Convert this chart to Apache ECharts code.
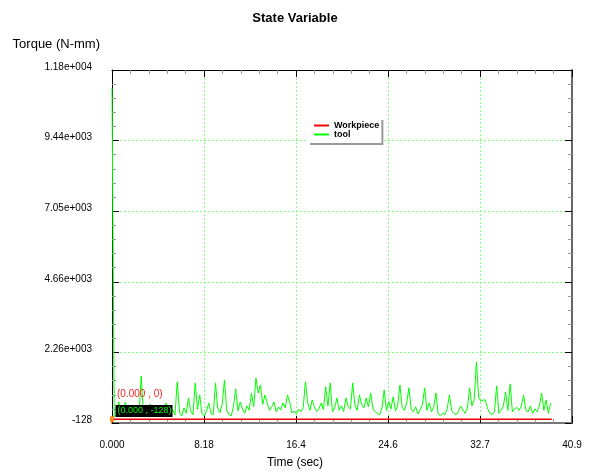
<!DOCTYPE html>
<html>
<head>
<meta charset="utf-8">
<script src="https://cdn.jsdelivr.net/npm/echarts@6/dist/echarts.min.js"></script>
<style>
html, body { margin: 0; background: #fff; }
#chart { width: 590px; height: 475px; }
</style>
</head>
<body>
<div id="chart"></div>
<script>
// tool torque, sampled every 0.2 s from t = 0
let timeStep = 0.2;
let toolTorque = [
    11200, 80, 150, 583, 120, 260, 583, 140, 90, 210,
    130, 330, 180, 1462, 160, 90, 240, 515, 120, 200,
    100, 280, 150, 220, 549, 130, 180, 312, 140, 1259,
    240, 110, 380, 200, 718, 260, 150, 1226, 330, 820,
    180, 120, 260, 549, 200, 150, 1226, 380, 220, 500,
    1327, 300, 160, 110, 420, 1023, 280, 583, 350, 200,
    450, 300, 887, 420, 1395, 887, 1158, 500, 820, 549,
    300, 420, 583, 250, 413, 310, 549, 380, 820, 583,
    210, 280, 180, 330, 250, 400, 1259, 549, 300, 650,
    420, 260, 350, 549, 330, 1090, 450, 1226, 250, 380,
    718, 300, 450, 260, 718, 420, 350, 1226, 481, 300,
    820, 500, 380, 718, 420, 887, 350, 250, 200, 150,
    380, 989, 300, 600, 350, 752, 280, 450, 1158, 400,
    300, 550, 1056, 350, 250, 420, 180, 320, 500, 1056,
    300, 550, 250, 400, 887, 180, 120, 200, 150, 350,
    820, 300, 200, 150, 250, 450, 300, 200, 380, 1056,
    450, 650, 1936, 752, 600, 650, 650, 350, 200, 150,
    250, 1124, 200, 300, 450, 921, 300, 1192, 250, 350,
    400, 300, 450, 820, 300, 250, 450, 200, 350, 250,
    450, 887, 300, 650, 200, 549
];
let workTime = [0, 39.1];
let workTorque = [0, 0];

let xTickLabels = ['0.000', '8.18', '16.4', '24.6', '32.7', '40.9'];
let yTickLabels = ['-128', '2.26e+003', '4.66e+003', '7.05e+003', '9.44e+003', '1.18e+004'];
let xMax = 40.9, xStep = 8.18;
let yMin = -128, yMax = 11800;

let font = 'Liberation Sans, Arial, sans-serif';
let gridGreen = '#80ff80';

const chart = echarts.init(document.getElementById('chart'), null, { renderer: 'canvas' });

let toolData = toolTorque.map(function (v, i) { return [i * timeStep, v]; });
let workData = workTime.map(function (t, i) { return [t, workTorque[i]]; });

// frame axis with inward ticks, used on all four sides
function frame(extra) {
    return Object.assign({
        type: 'value',
        axisLine: { show: true, onZero: false, lineStyle: { color: '#000', width: 1 } },
        axisTick: { show: true, inside: true, length: 7, lineStyle: { color: '#000' } },
        minorTick: { show: true, splitNumber: 5, length: 4, lineStyle: { color: '#999' } },
        splitLine: { show: false },
        axisLabel: { show: false }
    }, extra);
}

let option = {
    animation: false,
    backgroundColor: '#fff',
    title: {
        text: 'State Variable',
        left: 'center',
        top: 7,
        textStyle: { fontFamily: font, fontSize: 13, fontWeight: 'bold', color: '#000' }
    },
    legend: {
        orient: 'vertical',
        left: 308,
        top: 118,
        data: ['Workpiece', 'tool'],
        icon: 'rect',
        itemWidth: 15,
        itemHeight: 2,
        itemGap: 0,
        padding: [3, 2, 4, 6],
        backgroundColor: '#fff',
        shadowColor: '#999',
        shadowOffsetX: 2,
        shadowOffsetY: 2,
        shadowBlur: 0,
        textStyle: { fontFamily: font, fontSize: 9, fontWeight: 'bold', color: '#000', lineHeight: 9 }
    },
    grid: { left: 112, right: 18, top: 70, bottom: 52 },
    xAxis: [
        frame({
            min: 0, max: xMax, interval: xStep, position: 'bottom',
            axisLine: { show: true, onZero: false, lineStyle: { color: '#777', width: 2 } },
            splitLine: { show: true, lineStyle: { color: gridGreen, type: [2, 2] } },
            axisLabel: {
                show: true, color: '#000', fontFamily: font, fontSize: 10, margin: 17,
                formatter: function (v) { return xTickLabels[Math.round(v / xStep)]; }
            },
            name: 'Time (sec)',
            nameLocation: 'middle',
            nameGap: 34,
            nameTextStyle: { fontFamily: font, fontSize: 12, color: '#000', padding: [0, 94, 0, 0] }
        }),
        frame({ min: 0, max: xMax, interval: xStep, position: 'top' })
    ],
    yAxis: [
        { type: 'value', min: yMin, max: yMax, position: 'left', show: false },
        frame({
            min: 0, max: 5, interval: 1, position: 'left',
            splitLine: { show: true, lineStyle: { color: gridGreen, type: [2, 2] } },
            axisLabel: {
                show: true, color: '#000', fontFamily: font, fontSize: 10, margin: 20,
                verticalAlign: 'bottom', lineHeight: 6,
                formatter: function (v) { return yTickLabels[Math.round(v)]; }
            },
            name: 'Torque (N-mm)',
            nameLocation: 'end',
            nameGap: 19,
            nameTextStyle: { fontFamily: font, fontSize: 13, color: '#000', align: 'right', padding: [0, 12, 0, 0] }
        }),
        frame({
            min: 0, max: 5, interval: 1, position: 'right',
            axisLine: { show: true, onZero: false, lineStyle: { color: '#666', width: 2 } }
        })
    ],
    series: [
        {
            name: 'tool',
            type: 'line',
            xAxisIndex: 0,
            yAxisIndex: 0,
            data: toolData,
            symbol: 'none',
            color: '#00ff00',
            lineStyle: { color: '#00ff00', width: 1 },
            z: 2
        },
        {
            name: 'Workpiece',
            type: 'line',
            xAxisIndex: 0,
            yAxisIndex: 0,
            data: workData,
            symbol: 'none',
            color: '#ff0000',
            lineStyle: { color: '#ee0000', width: 1.5 },
            z: 3,
            markPoint: {
                animation: false,
                data: [
                    {
                        coord: [workTime[0], workTorque[0]],
                        symbol: 'rect',
                        symbolSize: [4, 6],
                        itemStyle: { color: '#ff8c1a' },
                        label: {
                            show: true, position: 'right', distance: 3, offset: [0, -25],
                            formatter: '(0.000 , 0)',
                            color: '#ff2020', fontFamily: font, fontSize: 10
                        }
                    },
                    {
                        coord: [workTime[0], yMin],
                        symbol: 'rect',
                        symbolSize: 1,
                        itemStyle: { color: 'rgba(0,0,0,0)' },
                        label: {
                            show: true, position: 'right', distance: 3, offset: [0, -12],
                            formatter: '(0.000 , -128)',
                            color: '#00ff00', backgroundColor: '#000',
                            padding: [2, 1, 1, 2],
                            fontFamily: font, fontSize: 9
                        }
                    }
                ]
            }
        }
    ]
};

chart.setOption(option);
</script>
</body>
</html>
